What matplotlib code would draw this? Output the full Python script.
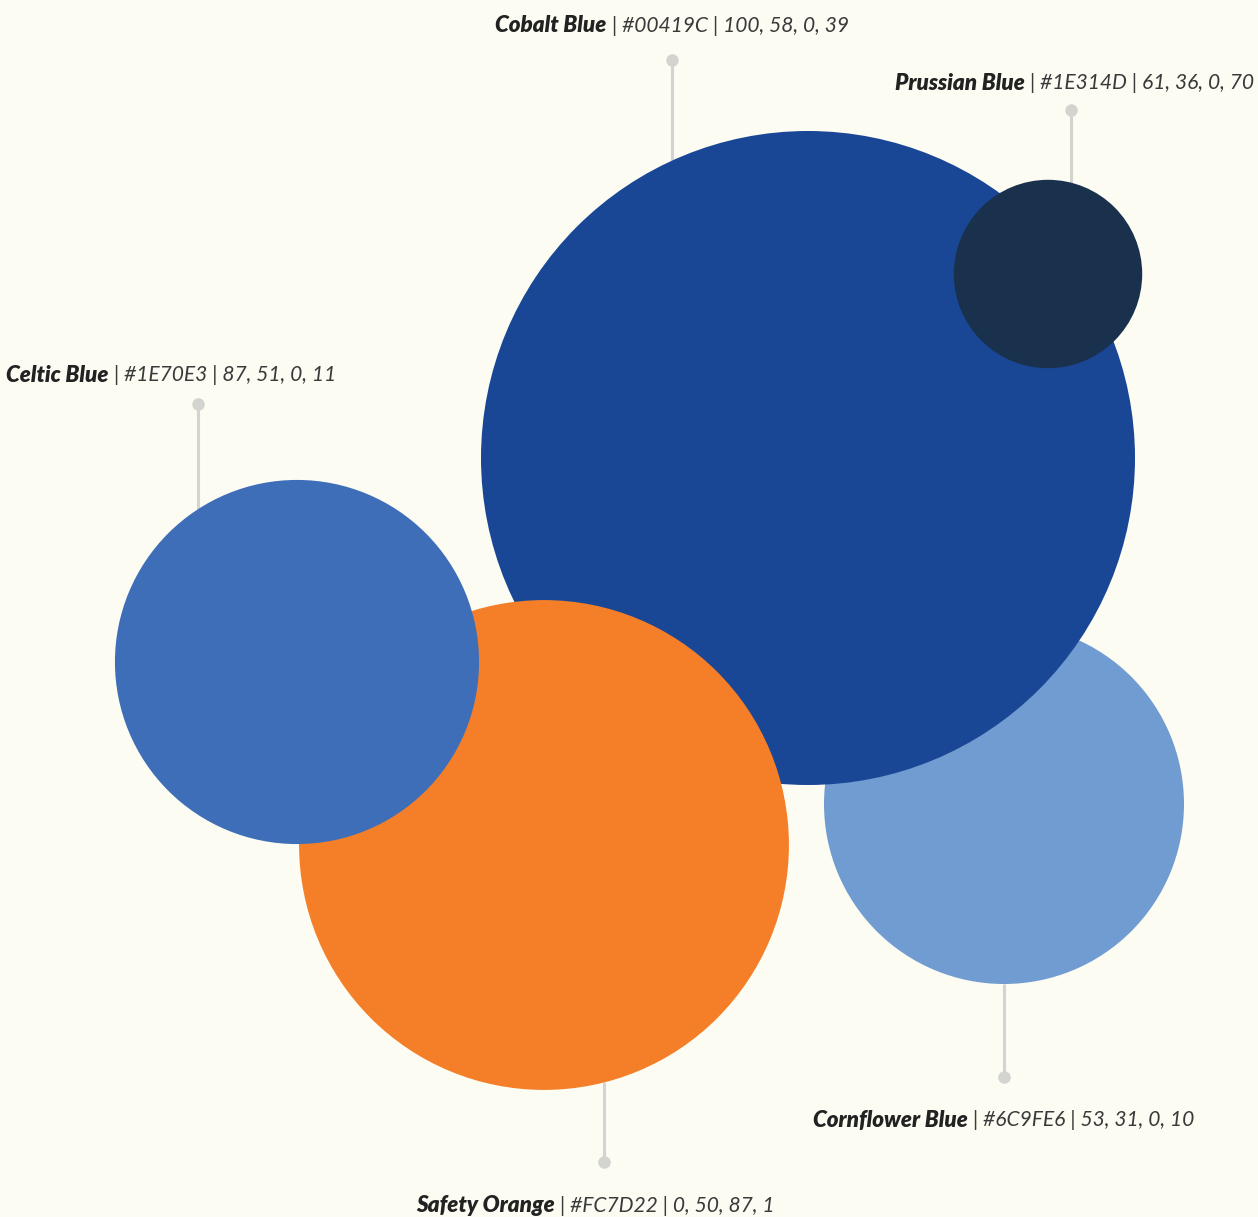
import matplotlib.pyplot as plt
import numpy as np
from matplotlib.patches import Circle

# colour swatches shown as bubbles
names = ['Cornflower Blue', 'Cobalt Blue', 'Prussian Blue', 'Safety Orange', 'Celtic Blue']
hex_codes = ['#6C9FE6', '#00419C', '#1E314D', '#FC7D22', '#1E70E3']
cmyk = ['53, 31, 0, 10', '100, 58, 0, 39', '61, 36, 0, 70', '0, 50, 87, 1', '87, 51, 0, 11']
values = [30.3, 100, 8.3, 56.1, 31.0]

# drawn fill colours (as rendered in the reference)
fills = ['#709CD2', '#1A4696', '#19314C', '#F47F28', '#3F6EB8']

# layout, pixel space of the canvas
centers = [(1004, 804), (808, 458), (1048, 274), (544, 845), (297, 662)]
lead_x = [1004, 672, 1071, 604, 198]
dot_y = [1077, 60, 110, 1162, 404]
label_pos = [(1004, 1120), (672, 26), (1076, 83), (595, 1206), (171, 375)]
R_MAX = 327

W, H = 1258, 1217
BG = '#FCFCF3'
LINE = '#D3D3CF'

fig = plt.figure(figsize=(W / 100, H / 100), dpi=100, facecolor=BG)
ax = fig.add_axes([0, 0, 1, 1])
ax.set_xlim(0, W)
ax.set_ylim(H, 0)
ax.set_aspect('equal')
ax.set_axis_off()
ax.set_facecolor(BG)

radii = [R_MAX * np.sqrt(v / max(values)) for v in values]

for i, (c, r) in enumerate(zip(centers, radii)):
    ax.add_patch(Circle(c, r, facecolor=fills[i], edgecolor='none', zorder=3 + i))

    # leader line from the dot to the circle edge
    dx = lead_x[i] - c[0]
    h = np.sqrt(max(r ** 2 - dx ** 2, 0))
    edge = c[1] - h if dot_y[i] < c[1] else c[1] + h
    ax.plot([lead_x[i], lead_x[i]], [dot_y[i], edge], color=LINE, lw=2.2,
            solid_capstyle='butt', zorder=1)
    ax.plot(lead_x[i], dot_y[i], 'o', color=LINE, ms=9, mec='none', zorder=1)

fig.canvas.draw()
renderer = fig.canvas.get_renderer()

for i in range(len(names)):
    cx, cy = label_pos[i]
    t1 = ax.text(0, cy, names[i], fontsize=16.1, fontstyle='italic', fontweight='heavy',
                 family=['Lato', 'DejaVu Sans'], color='#222222', va='center', ha='left', zorder=10)
    t2 = ax.text(0, cy, ' | ' + hex_codes[i] + ' | ' + cmyk[i], fontsize=15.1,
                 fontstyle='italic', fontweight='normal', family=['Lato', 'DejaVu Sans'],
                 color='#3A3A3A', va='center', ha='left', zorder=10)
    w1 = t1.get_window_extent(renderer).width
    w2 = t2.get_window_extent(renderer).width
    x0 = cx - (w1 + w2) / 2
    x0 = min(max(x0, 6), W - 4 - (w1 + w2))
    t1.set_x(x0)
    t2.set_x(x0 + w1)

fig.savefig('out.png', dpi=100, facecolor=BG)
